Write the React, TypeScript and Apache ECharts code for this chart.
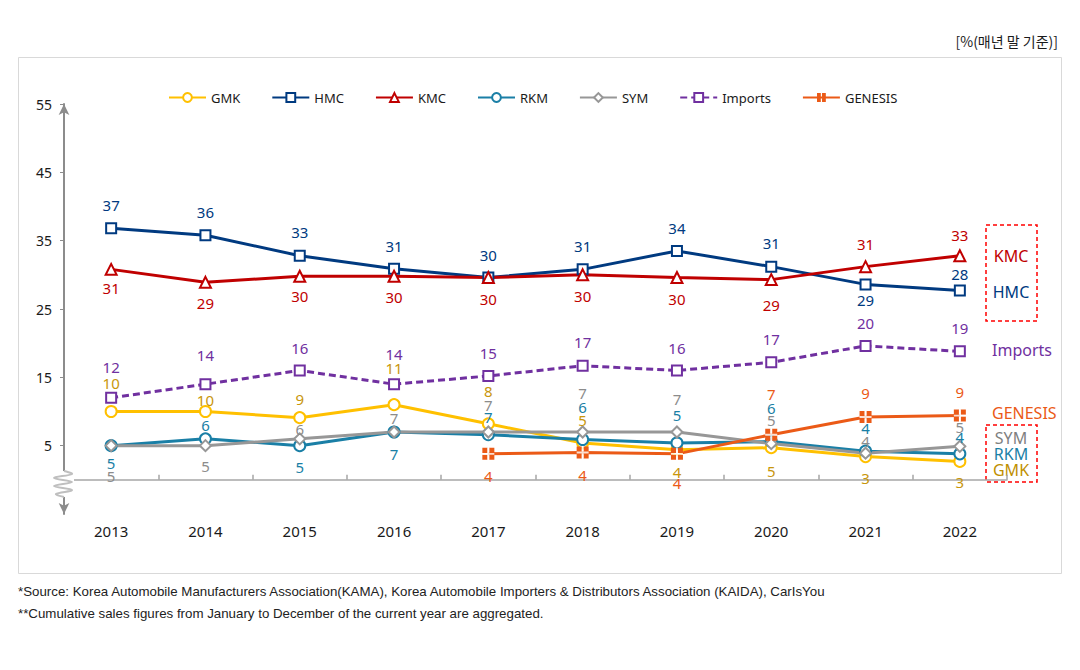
import React, { useEffect, useRef } from "react";
import * as echarts from "echarts";

const years = ["2013", "2014", "2015", "2016", "2017", "2018", "2019", "2020", "2021", "2022"];
const gmk = [10, 10, 9.1, 11, 8.2, 5.4, 4.4, 4.7, 3.4, 2.7];
const hmc = [36.8, 35.8, 32.8, 30.9, 29.6, 30.8, 33.5, 31.2, 28.6, 27.7];
const kmc = [30.8, 28.9, 29.8, 29.8, 29.6, 30.0, 29.6, 29.3, 31.2, 32.8];
const rkm = [5, 6, 5, 7, 6.6, 5.9, 5.4, 5.6, 4.2, 3.8];
const sym = [5, 5, 6, 7, 7, 7, 7, 5.3, 3.9, 4.9];
const imports = [12, 14, 16, 14, 15.2, 16.7, 16, 17.2, 19.6, 18.8];
const genesis: (number | null)[] = [null, null, null, null, 3.8, 4.0, 3.8, 6.6, 9.2, 9.4];
const yTicks = [5, 15, 25, 35, 45, 55];

// label vertical offsets (px) — styling only
const gmkDy = [-29, -12, -19, -37, -33, -23, 22, 23, 21, 21];
const hmcDy = [-23, -23, -24, -23, -23, -23, -23, -24, 16, -17];
const kmcDy = [19, 21, 20, 21, 21, 21, 21, 25, -23, -21];
const rkmDy = [17, -14, 21, 22, -18, -33, -28, -34, -23, -17];
const symDy = [30, 20, -10, -14, -27, -39, -33, -24, -12, -19];
const impDy = [-31, -29, -23, -30, -23, -24, -23, -23, -23, -23];
const genDy = [0, 0, 0, 0, 22, 22, 29, -41, -24, -24];

const FONT = "'Noto Sans', 'Noto Sans CJK KR', sans-serif";
const GEN_SYMBOL =
  "path://M0,0H4.3V4.3H0Z M5.7,0H10V4.3H5.7Z M0,5.7H4.3V10H0Z M5.7,5.7H10V10H5.7Z";
const PLUS_SYMBOL = "path://M4.2,0H5.8V10H4.2Z M0,4.2H10V5.8H0Z";

function mk(
  name: string,
  values: (number | null)[],
  dys: number[],
  color: string,
  labelColor: string,
  symbol: string,
  symbolSize: number,
  dashed = false
) {
  return {
    name,
    type: "line",
    symbol,
    symbolSize,
    z: 3,
    itemStyle: { color, borderWidth: 2 },
    lineStyle: { color, width: 3, type: dashed ? [7, 4] : "solid" },
    label: {
      show: true,
      position: "inside",
      color: labelColor,
      fontSize: 15,
      fontFamily: FONT,
      formatter: (p: any) => String(Math.round(p.value)),
    },
    data: values.map((v, i) =>
      v === null ? "-" : { value: v, label: { offset: [0, dys[i]] } }
    ),
  };
}

export default function App() {
  const ref = useRef<HTMLDivElement>(null);
  useEffect(() => {
    const chart = echarts.init(ref.current!, null, { renderer: "svg" });
    const option: any = {
      animation: false,
      backgroundColor: "#fff",
      textStyle: { fontFamily: FONT },
      grid: { left: 64, right: 73, top: 104, bottom: 156 },
      legend: {
        left: 163,
        top: 86,
        itemWidth: 37,
        itemHeight: 11,
        itemGap: 31,
        textStyle: { fontSize: 13, color: "#1a1a1a", fontFamily: FONT },
        data: ["GMK", "HMC", "KMC", "RKM", "SYM", "Imports", "GENESIS"],
      },
      xAxis: {
        type: "category",
        data: years,
        boundaryGap: true,
        axisLine: { lineStyle: { color: "#a6a6a6", width: 1.5 } },
        axisTick: { show: true, inside: true, length: 5, lineStyle: { color: "#a6a6a6", width: 1.5 } },
        axisLabel: { color: "#1a1a1a", fontSize: 15, margin: 9, fontFamily: FONT },
      },
      yAxis: {
        type: "value",
        min: -5,
        max: 55,
        splitLine: { show: false },
        axisLine: {
          show: true,
          symbol: ["arrow", "arrow"],
          symbolSize: [8, 11],
          lineStyle: { color: "#8c8c8c", width: 2 },
        },
        axisTick: { show: true, length: 4, customValues: yTicks, lineStyle: { color: "#8c8c8c" } },
        axisLabel: { customValues: yTicks, color: "#1a1a1a", fontSize: 14, margin: 12, fontFamily: FONT },
      },
      series: [
        mk("GMK", gmk, gmkDy, "#FFC000", "#C8960C", "emptyCircle", 11),
        mk("HMC", hmc, hmcDy, "#003A80", "#003A80", "emptyRect", 10),
        mk("KMC", kmc, kmcDy, "#C00000", "#C00000", "emptyTriangle", 11),
        mk("RKM", rkm, rkmDy, "#1A7FA6", "#1A7FA6", "emptyCircle", 11),
        mk("SYM", sym, symDy, "#979797", "#8c8c8c", "emptyDiamond", 11),
        mk("Imports", imports, impDy, "#7030A0", "#7030A0", "emptyRect", 10, true),
        mk("GENESIS", genesis, genDy, "#EB5A17", "#EB5A17", GEN_SYMBOL, 12),
        {
          name: "genesis-mark",
          type: "scatter",
          silent: true,
          z: 4,
          symbol: PLUS_SYMBOL,
          symbolSize: 12,
          itemStyle: { color: "#fff" },
          data: genesis.map((v) => (v === null ? "-" : v)),
        },
      ],
      graphic: [
        {
          type: "rect",
          z: -10,
          shape: { x: 18.5, y: 57.5, width: 1043, height: 516 },
          style: { fill: "none", stroke: "#d9d9d9", lineWidth: 1 },
        },
        {
          type: "text",
          right: 22,
          top: 34,
          style: { text: "[%(매년 말 기준)]", fill: "#1a1a1a", font: "14px 'Noto Sans CJK KR', sans-serif" },
        },
        {
          type: "rect",
          z: 10,
          shape: { x: 52, y: 471, width: 22, height: 26 },
          style: { fill: "#fff" },
        },
        {
          type: "polyline",
          z: 11,
          shape: {
            points: [[64, 471], [72, 474], [54, 478], [72, 482], [54, 486], [72, 490], [56, 494], [64, 497]],
            smooth: 0.4,
          },
          style: { stroke: "#bfbfbf", lineWidth: 2, fill: "none" },
        },
        {
          type: "rect",
          shape: { x: 986, y: 225, width: 51, height: 96 },
          style: { fill: "none", stroke: "#ff0000", lineWidth: 1.5, lineDash: [4, 3] },
        },
        {
          type: "text", x: 1011, y: 256,
          style: { text: "KMC", fill: "#C00000", font: `16px ${FONT}`, align: "center", verticalAlign: "middle" },
        },
        {
          type: "text", x: 1011, y: 292,
          style: { text: "HMC", fill: "#003A80", font: `16px ${FONT}`, align: "center", verticalAlign: "middle" },
        },
        {
          type: "text", x: 992, y: 350,
          style: { text: "Imports", fill: "#7030A0", font: `16px ${FONT}`, align: "left", verticalAlign: "middle" },
        },
        {
          type: "text", x: 992, y: 413,
          style: { text: "GENESIS", fill: "#EB5A17", font: `16px ${FONT}`, align: "left", verticalAlign: "middle" },
        },
        {
          type: "rect",
          shape: { x: 986, y: 425, width: 51, height: 57 },
          style: { fill: "none", stroke: "#ff0000", lineWidth: 1.5, lineDash: [4, 3] },
        },
        {
          type: "text", x: 1011, y: 438,
          style: { text: "SYM", fill: "#7f7f7f", font: `16px ${FONT}`, align: "center", verticalAlign: "middle" },
        },
        {
          type: "text", x: 1011, y: 454,
          style: { text: "RKM", fill: "#1A7FA6", font: `16px ${FONT}`, align: "center", verticalAlign: "middle" },
        },
        {
          type: "text", x: 1011, y: 470,
          style: { text: "GMK", fill: "#BF9000", font: `16px ${FONT}`, align: "center", verticalAlign: "middle" },
        },
        {
          type: "text", x: 18, y: 591,
          style: {
            text: "*Source: Korea Automobile Manufacturers Association(KAMA), Korea Automobile Importers & Distributors Association (KAIDA), CarIsYou",
            fill: "#222", font: "13.3px 'Liberation Sans', sans-serif", verticalAlign: "middle",
          },
        },
        {
          type: "text", x: 18, y: 613,
          style: {
            text: "**Cumulative sales figures from January to December of the current year are aggregated.",
            fill: "#222", font: "13.3px 'Liberation Sans', sans-serif", verticalAlign: "middle",
          },
        },
      ],
    };
    chart.setOption(option);
    return () => chart.dispose();
  }, []);
  return (
    <div
      ref={ref}
      style={{ position: "fixed", left: 0, top: 0, width: 1080, height: 670 }}
    />
  );
}
